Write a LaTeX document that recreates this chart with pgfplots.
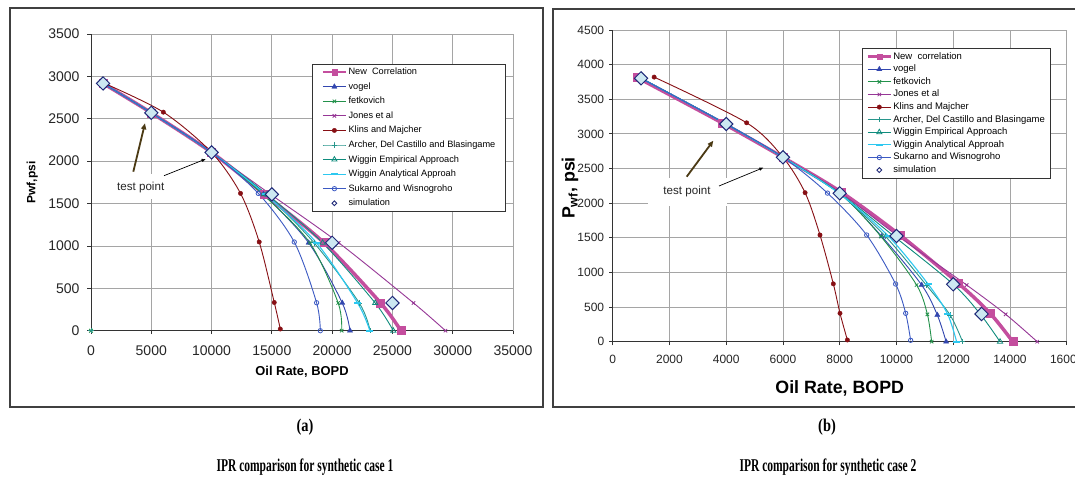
\documentclass[border=0pt]{standalone}
\usepackage{fontspec}
\setmainfont{Liberation Sans}
\newfontfamily\capfont{Liberation Serif}
\usepackage{graphicx}
\usepackage{pgfplots}
\pgfplotsset{compat=1.18}
\usetikzlibrary{arrows.meta}

\definecolor{newcor}{RGB}{196,78,158}
\definecolor{vogelc}{RGB}{50,70,175}
\definecolor{fetkc}{RGB}{35,145,75}
\definecolor{jonesc}{RGB}{150,55,150}
\definecolor{klinsc}{RGB}{135,15,20}
\definecolor{archerc}{RGB}{40,150,140}
\definecolor{wigEc}{RGB}{15,140,125}
\definecolor{wigAc}{RGB}{45,200,240}
\definecolor{sukc}{RGB}{60,90,195}
\definecolor{simfill}{RGB}{205,232,242}
\definecolor{simedge}{RGB}{30,40,120}
\definecolor{arrowbrown}{RGB}{75,58,20}
\definecolor{gridgray}{RGB}{165,165,165}

\pgfplotsset{
  ipr/.style={
    scale only axis, axis lines=left,
    axis line style={-, draw=black!80, line width=0.8pt},
    grid=major, grid style={gridgray, line width=0.8pt},
    tick align=outside, major tick length=3.5pt,
    tick style={black!80, line width=0.8pt},
    /pgf/number format/assume math mode=true,
    scaled ticks=false, /pgf/number format/1000 sep={},
    clip=false, legend cell align=left,
    legend image code/.code={\draw[mark repeat=2,mark phase=2,##1] plot coordinates {(0pt,0pt)(11.5pt,0pt)(23pt,0pt)};},
  },
  newc/.style={newcor, line width=3.5pt, smooth, mark=square*, mark size=4pt,
    mark options={solid, fill=newcor, line width=0.4pt},
    legend image post style={line width=2.4pt, mark size=2.6pt}},
  vog/.style={vogelc, line width=0.9pt, smooth, mark=triangle*, mark size=3pt,
    mark options={fill=vogelc, line width=0.4pt}},
  fet/.style={fetkc, line width=0.9pt, smooth, mark=x, mark size=2.4pt,
    mark options={line width=0.8pt}},
  jon/.style={jonesc, line width=0.9pt, smooth, mark=x, mark size=2.4pt,
    mark options={line width=0.8pt}},
  kli/.style={klinsc, line width=0.9pt, smooth, mark=*, mark size=2.2pt,
    mark options={fill=klinsc, line width=0.4pt}},
  arc/.style={archerc, line width=0.9pt, smooth, mark=+, mark size=2.8pt,
    mark options={line width=0.8pt}},
  wge/.style={wigEc, line width=0.9pt, smooth, mark=triangle, mark size=3pt,
    mark options={fill=white, line width=0.8pt}},
  wga/.style={wigAc, line width=1.1pt, smooth, mark=-, mark size=3.5pt,
    mark options={line width=2pt}},
  suk/.style={sukc, line width=0.9pt, smooth, mark=o, mark size=2.2pt,
    mark options={fill=white, line width=0.8pt}},
  sim/.style={only marks, mark=square*, mark size=4.7pt,
    mark options={rotate=45, fill=simfill, draw=simedge, line width=1pt},
    legend image post style={mark size=1.7pt, mark options={rotate=45, fill=white, draw=simedge, line width=0.9pt}}},
}

\begin{document}
\begin{tikzpicture}
\useasboundingbox (0pt,0pt) rectangle (1075pt,481pt);
\clip (0pt,0pt) rectangle (1075pt,481pt);
\fill[white] (0pt,0pt) rectangle (1075pt,481pt);

% chart area borders
\draw[black!75, line width=1.3pt] (10pt,74pt) rectangle (543pt,473pt);
\draw[black!75, line width=1.3pt] (553pt,74pt) rectangle (1090pt,472pt);

% ---------- synthetic case 1 ----------
\begin{axis}[ipr,
  at={(91pt,150.3pt)}, anchor=south west, width=422pt, height=296.7pt,
  xmin=0, xmax=35000, ymin=0, ymax=3500,
  xtick={0,5000,...,35000}, ytick={0,500,...,3500},
  tick label style={font=\fontsize{14}{16}\selectfont, text=black!85},
  xticklabel style={yshift=-8pt}, yticklabel style={xshift=-4.5pt},
  xlabel={\bfseries Oil Rate, BOPD}, ylabel={\bfseries Pwf,psi},
  xlabel style={font=\fontsize{12.9}{14}\selectfont, at={(axis description cs:0.5,-0.1382)}, anchor=center},
  ylabel style={font=\fontsize{12}{14}\selectfont, at={(axis description cs:-0.1391,0.5)}, anchor=center},
  legend style={at={(axis description cs:0.5244,0.8989)}, anchor=north west,
    font=\fontsize{9.2}{10}\selectfont, draw=black!80, line width=0.8pt,
    inner xsep=9pt, inner ysep=3.3pt, row sep=5.56pt,
    nodes={inner xsep=1.5pt, inner ysep=0pt, text height=7pt, text depth=2pt}},
]
\addplot[newc] coordinates {(1000,2917)(5000,2570)(10000,2103)(14400,1608)(19300,1040)(24000,330)(25700,0)};
\addlegendentry{New\ \ Correlation}
\addplot[vog] coordinates {(1000,2917)(5000,2570)(10000,2103)(14300,1608)(18050,1037)(20840,327)(21480,0)};
\addlegendentry{vogel}
\addplot[fet] coordinates {(1000,2917)(5000,2570)(10000,2103)(14250,1608)(18150,1037)(20500,327)(20790,0)};
\addlegendentry{fetkovich}
\addplot[jon] coordinates {(1000,2917)(5000,2570)(10000,2103)(14900,1608)(20550,1037)(26750,327)(29400,0)};
\addlegendentry{Jones et al}
\addplot[kli] coordinates {(1000,2925)(6000,2578)(10000,2103)(12400,1620)(13950,1047)(15200,333)(15700,20)};
\addlegendentry{Klins and Majcher}
\addplot[arc] coordinates {(1000,2917)(5000,2570)(10000,2103)(14500,1608)(18500,1037)(22250,327)(23150,0)};
\addlegendentry{Archer, Del Castillo and Blasingame}
\addplot[wge] coordinates {(1000,2917)(5000,2570)(10000,2103)(14600,1608)(19210,1037)(23570,327)(25070,0)};
\addlegendentry{Wiggin Empirical Approach}
\addplot[wga] coordinates {(1000,2917)(5000,2570)(10000,2103)(14450,1608)(18700,1037)(22110,327)(23130,0)};
\addlegendentry{Wiggin Analytical Approah}
\addplot[suk] coordinates {(1000,2917)(5000,2570)(10000,2103)(13875,1620)(16860,1046)(18710,330)(19020,0)};
\addlegendentry{Sukarno and Wisnogroho}
\addplot[sim] coordinates {(1000,2917)(5000,2570)(10000,2103)(15000,1608)(20000,1037)(25000,327)};
\addlegendentry{simulation}
% stray points at the origin
\addplot[fetkc, only marks, mark=x, mark size=2.6pt, mark options={line width=0.8pt}, forget plot] coordinates {(0,0)};
\addplot[archerc, only marks, mark=+, mark size=2.8pt, mark options={line width=0.8pt}, forget plot] coordinates {(0,0)};
\end{axis}

% ---------- synthetic case 2 ----------
\begin{axis}[ipr,
  at={(612.7pt,139.3pt)}, anchor=south west, width=454pt, height=311.7pt,
  xmin=0, xmax=16000, ymin=0, ymax=4500,
  xtick={0,2000,...,16000}, ytick={0,500,...,4500},
  tick label style={font=\fontsize{12}{14}\selectfont, text=black!85},
  xticklabel style={yshift=-6pt}, yticklabel style={xshift=-1.5pt},
  xlabel={\bfseries Oil Rate, BOPD}, ylabel={\bfseries P\textsubscript{wf}, psi},
  xlabel style={font=\fontsize{17.8}{20}\selectfont, at={(axis description cs:0.5,-0.1495)}, anchor=center},
  ylabel style={font=\fontsize{17.8}{20}\selectfont, at={(axis description cs:-0.094,0.493)}, anchor=center},
  legend style={at={(axis description cs:0.5485,0.9413)}, anchor=north west,
    font=\fontsize{9.5}{10}\selectfont, draw=black!80, line width=0.8pt,
    inner xsep=4.5pt, inner ysep=3.5pt, row sep=3.6pt,
    nodes={inner xsep=1.3pt, inner ysep=0pt, text height=7pt, text depth=2pt}},
]
\addplot[newc] coordinates {(850,3817)(3850,3160)(6000,2662)(8050,2160)(10120,1540)(12180,843)(13300,410)(14100,0)};
\addlegendentry{New\ \ correlation}
\addplot[vog] coordinates {(1000,3803)(4000,3143)(6000,2662)(8000,2142)(9480,1520)(10890,818)(11440,385)(11750,0)};
\addlegendentry{vogel}
\addplot[fet] coordinates {(1000,3803)(4000,3143)(6000,2662)(8000,2142)(9450,1520)(10710,818)(11090,395)(11240,0)};
\addlegendentry{fetkovich}
\addplot[jon] coordinates {(1000,3803)(4000,3143)(6000,2662)(8050,2142)(10050,1526)(12475,818)(13850,395)(14960,0)};
\addlegendentry{Jones et al}
\addplot[kli] coordinates {(1460,3820)(4720,3160)(6000,2662)(6780,2151)(7305,1540)(7775,835)(8010,410)(8270,25)};
\addlegendentry{Klins and Majcher}
\addplot[arc] coordinates {(1000,3803)(4000,3143)(6000,2662)(7980,2142)(9600,1526)(11050,818)(11890,385)(12330,0)};
\addlegendentry{Archer, Del Castillo and Blasingame}
\addplot[wge] coordinates {(1000,3803)(4000,3143)(6000,2662)(8000,2142)(9900,1526)(12000,829)(12950,400)(13650,0)};
\addlegendentry{Wiggin Empirical Approach}
\addplot[wga] coordinates {(1000,3803)(4000,3143)(6000,2662)(7980,2142)(9710,1526)(11120,829)(11800,400)(12120,0)};
\addlegendentry{Wiggin Analytical Approah}
\addplot[suk] coordinates {(1000,3803)(4000,3143)(6000,2662)(7570,2145)(8950,1540)(9970,833)(10325,410)(10500,20)};
\addlegendentry{Sukarno and Wisnogroho}
\addplot[sim] coordinates {(1000,3803)(4000,3143)(6000,2662)(8000,2142)(10000,1526)(12000,829)(13000,400)};
\addlegendentry{simulation}
\end{axis}

% test point callouts
\fill[white] (112pt,281.5pt) rectangle (168pt,307pt);
\node[font=\fontsize{11.6}{13}\selectfont, text=black!85] at (140.7pt,293.7pt) {test point};
\draw[arrowbrown, line width=1.8pt, -{Triangle[length=6pt,width=5pt]}] (133.3pt,309.3pt) -- (145pt,357.7pt);
\draw[black, line width=0.7pt, -{Triangle[length=4pt,width=3pt]}] (164pt,305.3pt) -- (205.7pt,322pt);

\fill[white] (648pt,275pt) rectangle (727pt,303pt);
\node[font=\fontsize{11.6}{13}\selectfont, text=black!85] at (687pt,289.3pt) {test point};
\draw[arrowbrown, line width=1.8pt, -{Triangle[length=6pt,width=5pt]}] (686.7pt,304.3pt) -- (713.3pt,340.3pt);
\draw[black, line width=0.7pt, -{Triangle[length=4pt,width=3pt]}] (719pt,295pt) -- (763.3pt,313.3pt);

% captions
\node at (305pt,54pt) {\scalebox{0.8}[1]{\capfont\bfseries\fontsize{18}{20}\selectfont (a)}};
\node at (827pt,54pt) {\scalebox{0.8}[1]{\capfont\bfseries\fontsize{18}{20}\selectfont (b)}};
\node at (305pt,14pt) {\scalebox{0.64}[1]{\capfont\bfseries\fontsize{18}{20}\selectfont IPR comparison for synthetic case 1}};
\node at (828pt,14pt) {\scalebox{0.64}[1]{\capfont\bfseries\fontsize{18}{20}\selectfont IPR comparison for synthetic case 2}};
\end{tikzpicture}
\end{document}
